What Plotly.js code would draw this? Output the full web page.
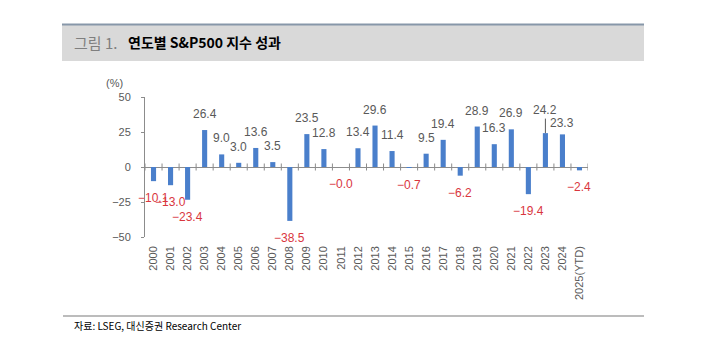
<!DOCTYPE html>
<html>
<head>
<meta charset="utf-8">
<script src="https://cdn.plot.ly/plotly-3.0.1.min.js"></script>
<style>
html,body{margin:0;padding:0;background:#fff;}
#chart{width:720px;height:363px;}
</style>
</head>
<body>
<div id="chart"></div>
<script>
const years = ['2000','2001','2002','2003','2004','2005','2006','2007','2008','2009','2010','2011','2012','2013','2014','2015','2016','2017','2018','2019','2020','2021','2022','2023','2024','2025(YTD)'];
const returns = [-10.1,-13.0,-23.4,26.4,9.0,3.0,13.6,3.5,-38.5,23.5,12.8,-0.0,13.4,29.6,11.4,-0.7,9.5,19.4,-6.2,28.9,16.3,26.9,-19.4,24.2,23.3,-2.4];
const yTicks = [-50,-25,0,25,50];
const titleLabel = '그림 1.';
const titleText = '연도별 S&P500 지수 성과';
const sourceText = '자료: LSEG, 대신증권 Research Center';
const unitText = '(%)';

// plot area in pixels
const L = 145, R = 588, T = 97, B = 237, W = 720, H = 363;
const px = x => (x - L) / (R - L);
const py = y => (B - y) / (B - T);

const isNeg = v => v < 0 || Object.is(v, -0);
const fmt = v => (isNeg(v) ? '\u2212' : '') + Math.abs(v).toFixed(1);

const LABEL_FONT = 'Liberation Sans, Arial, sans-serif';
const KR_FONT = 'Noto Sans CJK KR, sans-serif';

const annotations = returns.map((v, i) => {
  const neg = isNeg(v);
  const a = {
    x: i, y: v, xref: 'x', yref: 'y',
    text: fmt(v), showarrow: false,
    xanchor: 'center',
    yanchor: neg ? 'top' : 'bottom',
    yshift: neg ? -8 : 7,
    font: {family: LABEL_FONT, size: 12, color: neg ? '#D9363E' : '#595959'}
  };
  if (years[i] === '2023') {
    Object.assign(a, {showarrow: true, arrowhead: 0, arrowwidth: 1, arrowcolor: '#595959',
      ax: 0, ay: -23, standoff: 0, yanchor: 'auto', yshift: 0});
  }
  if (years[i] === '2024') a.yshift = 2;
  return a;
});

annotations.push(
  {xref: 'paper', yref: 'paper', x: px(72), y: py(42), xanchor: 'left', yanchor: 'middle',
   text: titleLabel, showarrow: false, font: {family: KR_FONT, size: 15, color: '#7F7F7F'}},
  {xref: 'paper', yref: 'paper', x: px(126), y: py(42), xanchor: 'left', yanchor: 'middle',
   text: '<b>' + titleText + '</b>', showarrow: false, font: {family: KR_FONT, size: 14, color: '#000000'}},
  {xref: 'paper', yref: 'paper', x: px(72), y: py(325), xanchor: 'left', yanchor: 'middle',
   text: sourceText, showarrow: false, font: {family: KR_FONT, size: 10, color: '#000000'}},
  {xref: 'paper', yref: 'paper', x: px(114), y: py(83), xanchor: 'center', yanchor: 'middle',
   text: unitText, showarrow: false, font: {family: LABEL_FONT, size: 11, color: '#595959'}}
);

const shapes = [
  {type: 'rect', xref: 'paper', yref: 'paper', x0: px(62), x1: px(644), y0: py(61), y1: py(25),
   fillcolor: '#D9D9D9', line: {width: 0}, layer: 'below'},
  {type: 'line', xref: 'paper', yref: 'paper', x0: px(62), x1: px(644), y0: py(24.5), y1: py(24.5),
   line: {color: '#8797A9', width: 2}},
  {type: 'line', xref: 'paper', yref: 'paper', x0: px(63), x1: px(644), y0: py(316), y1: py(316),
   line: {color: '#A6A6A6', width: 1.5}}
];
for (let i = 0; i <= years.length; i++) {
  shapes.push({type: 'line', xref: 'x', yref: 'y', x0: i - 0.5, x1: i - 0.5,
    ysizemode: 'pixel', yanchor: 0, y0: -3.5, y1: 3.5,
    line: {color: '#8C8C8C', width: 1}});
}

const data = [{
  type: 'bar', x: years, y: returns,
  marker: {color: '#4A7FCB', line: {width: 0}},
  hoverinfo: 'x+y', cliponaxis: false
}];

const layout = {
  width: W, height: H,
  margin: {l: L, r: W - R, t: T, b: H - B, pad: 0},
  paper_bgcolor: '#ffffff', plot_bgcolor: '#ffffff',
  showlegend: false,
  bargap: 0.7,
  xaxis: {
    type: 'category', categoryorder: 'array', categoryarray: years,
    range: [-0.5, years.length - 0.5],
    showgrid: false, zeroline: false, showline: false,
    ticks: '', tickangle: -90, ticklabelstandoff: 6,
    tickfont: {family: LABEL_FONT, size: 11, color: '#595959'},
    fixedrange: true
  },
  yaxis: {
    range: [-50, 50], tickvals: yTicks, ticktext: yTicks.map(v => (v < 0 ? '\u2212' : '') + Math.abs(v)),
    showgrid: false, zeroline: true, zerolinecolor: '#8C8C8C', zerolinewidth: 1,
    showline: true, linecolor: '#8C8C8C', linewidth: 1,
    ticks: 'outside', ticklen: 3, tickcolor: '#8C8C8C', ticklabelstandoff: 8,
    tickfont: {family: LABEL_FONT, size: 11, color: '#595959'},
    fixedrange: true
  },
  annotations: annotations,
  shapes: shapes
};

Plotly.newPlot('chart', data, layout, {displayModeBar: false, staticPlot: true});
</script>
</body>
</html>
